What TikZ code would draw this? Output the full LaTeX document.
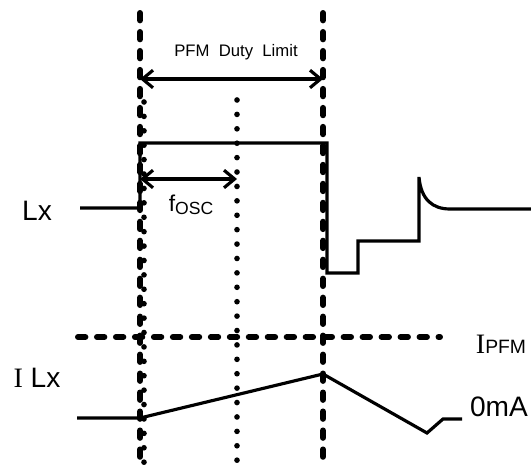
\documentclass[tikz,border=0pt]{standalone}
\usepackage{fontspec}
\setmainfont{Liberation Sans}
\newfontfamily\serifI{Liberation Serif}
\usetikzlibrary{arrows.meta}

\begin{document}
\begin{tikzpicture}[x=0.02cm,y=-0.02cm]
		\tikzset{bound/.style={line width=3.4pt, line cap=round, dash pattern=on 4.2pt off 6.6pt},
			dotline/.style={line width=3.2pt, line cap=round, dash pattern=on 0pt off 8.2pt},
			wave/.style={line width=1.8pt},
			span/.style={line width=1.8pt, {Straight Barb[length=6pt,width=10pt]}-{Straight Barb[length=6pt,width=10pt]}}};
		\useasboundingbox (0,0) rectangle (531,466);
		% waveforms
		\draw[wave] (80,208) -- (140,208) -- (140,143) -- (327,143) -- (327,273) -- (358,273) -- (358,241) -- (419,241) -- (419,177)
			.. controls (421,200) and (433,209) .. (450,209) -- (531,209);
		\draw[wave] (77,418) -- (140,418) -- (323,374) -- (427,433) -- (443,419) -- (462,419);
		% limits
		\draw[bound] (140,13) -- (140,466);
		\draw[bound] (323,13) -- (323,466);
		\draw[bound] (78,337) -- (440,337);
		\draw[dotline] (144,102) -- (144,466);
		\draw[dotline] (237,100) -- (237,466);
		% spans
		\coordinate (dutyL) at (140,79);
		\coordinate (dutyR) at (323,79);
		\coordinate (oscL) at (140,179);
		\coordinate (oscR) at (237,179);
		\draw[span] (dutyL) -- (dutyR);
		\draw[span] (oscL) -- (oscR);
		% labels
		\node (duty) at (236,52) {\fontsize{9.5}{11}\selectfont PFM\ \ Duty\ \ Limit};
		\node (osc) at (191,205) {\fontsize{13}{15}\selectfont f\raisebox{-0.3ex}{\fontsize{10}{12}\selectfont OSC}};
		\node (lx) at (37,211) {\fontsize{16}{18}\selectfont Lx};
		\node (ilx) at (37,378) {\fontsize{16}{18}\selectfont {\serifI I} Lx};
		\node (ipfm) at (501,344) {\fontsize{16}{18}\selectfont {\serifI I}\fontsize{11}{13}\selectfont PFM};
		\node (zero) at (499,407) {\fontsize{16}{18}\selectfont 0mA};
	\end{tikzpicture}
\end{document}
